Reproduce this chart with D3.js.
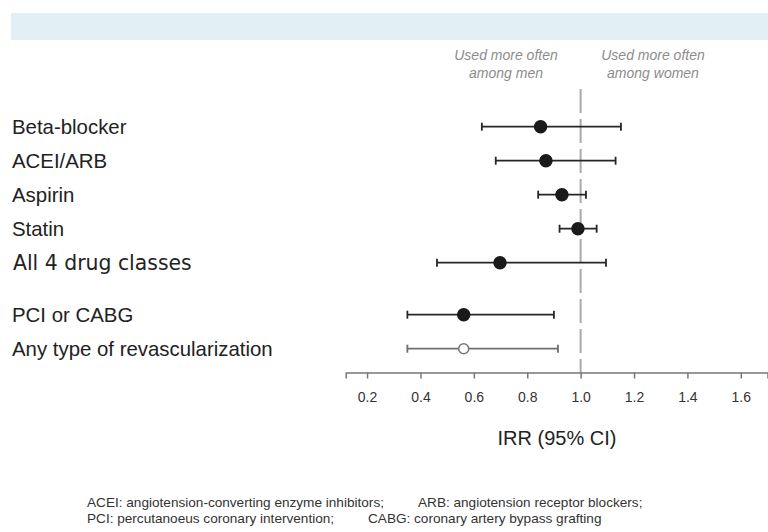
<!DOCTYPE html>
<html>
<head>
<meta charset="utf-8">
<script src="https://cdn.jsdelivr.net/npm/d3@7"></script>
<style>
  body { margin: 0; background: #fff; }
</style>
</head>
<body>
<div id="chart"></div>
<script>
var labels = [
  "Beta-blocker",
  "ACEI/ARB",
  "Aspirin",
  "Statin",
  "All 4 drug classes",
  "PCI or CABG",
  "Any type of revascularization",
];
var groups = ["drug", "drug", "drug", "drug", "drug", "revasc", "revasc"];
var irr = [0.85, 0.87, 0.93, 0.99, 0.698, 0.562, 0.562];
var lower = [0.63, 0.682, 0.841, 0.921, 0.462, 0.351, 0.351];
var upper = [1.151, 1.131, 1.02, 1.06, 1.095, 0.9, 0.915];
var filled = [true, true, true, true, true, true, false];
var tickValues = [0.2, 0.4, 0.6, 0.8, 1.0, 1.2, 1.4, 1.6];
var footnotes = [
  ["ACEI: angiotension-converting enzyme inhibitors;", "ARB: angiotension receptor blockers;"],
  ["PCI: percutanoeus coronary intervention;", "CABG: coronary artery bypass grafting"],
];

const width = 768;
const height = 532;
const sans = "'Liberation Sans', Arial, sans-serif";

const svg = d3
  .select("#chart")
  .append("svg")
  .attr("width", width)
  .attr("height", height)
  .style("font-family", sans);

// light blue header band
svg
  .append("rect")
  .attr("x", 11)
  .attr("y", 13)
  .attr("width", width - 11)
  .attr("height", 27)
  .attr("fill", "#e2f0f5");

const x = d3.scaleLinear().domain([0.12, 1.7]).range([345.7, 767.5]);

// row positions: extra gap between the drug block and revascularization block
var rowPos = [];
var pos = 0;
groups.forEach(function (g, i) {
  if (i > 0 && g !== groups[i - 1]) pos += 1.53;
  else if (i > 0) pos += 1;
  rowPos.push(pos);
});
const y = d3.scaleLinear().domain([0, 1]).range([126.7, 160.7]);
const axisY = 372.5;

// reference line at 1
svg
  .append("line")
  .attr("x1", x(1))
  .attr("x2", x(1))
  .attr("y1", 89)
  .attr("y2", axisY)
  .attr("stroke", "#aaaaaa")
  .attr("stroke-width", 2)
  .attr("stroke-dasharray", "24,6");

// annotations
var notes = [
  { cx: 506, lines: ["Used more often", "among men"] },
  { cx: 653, lines: ["Used more often", "among women"] },
];
notes.forEach(function (n) {
  n.lines.forEach(function (t, j) {
    svg
      .append("text")
      .attr("x", n.cx)
      .attr("y", 60 + j * 18)
      .attr("text-anchor", "middle")
      .style("font-size", "14px")
      .style("font-style", "italic")
      .attr("fill", "#8c8c8c")
      .text(t);
  });
});

// axis
const xAxis = svg
  .append("g")
  .attr("class", "x axis")
  .attr("transform", "translate(0," + axisY + ")")
  .call(
    d3
      .axisBottom(x)
      .tickValues(tickValues)
      .tickFormat(d3.format(".1f"))
      .tickSizeInner(6)
      .tickSizeOuter(6)
      .tickPadding(14)
  );
xAxis.select(".domain").attr("stroke", "#777").attr("stroke-width", 1.5);
xAxis.selectAll(".tick line").attr("stroke", "#777").attr("stroke-width", 1.5);
xAxis
  .selectAll(".tick text")
  .style("font-size", "14px")
  .style("font-family", sans)
  .attr("fill", "#333");

svg
  .append("text")
  .attr("x", 557)
  .attr("y", 445)
  .attr("text-anchor", "middle")
  .style("font-size", "20px")
  .attr("fill", "#222")
  .text("IRR (95% CI)");

// row labels
svg
  .selectAll(".label")
  .data(labels)
  .enter()
  .append("text")
  .attr("class", "label")
  .attr("x", function (d, i) {
    return i === 4 ? 13 : 12;
  })
  .attr("y", function (d, i) {
    return y(rowPos[i]) + 7;
  })
  .style("font-size", "20.4px")
  .style("font-family", function (d, i) {
    return i === 4 ? "'DejaVu Sans', Verdana, sans-serif" : sans;
  })
  .attr("fill", "#222")
  .text(function (d) {
    return d;
  });

// error bars
var rows = svg
  .selectAll(".row")
  .data(labels)
  .enter()
  .append("g")
  .attr("class", "row")
  .attr("transform", function (d, i) {
    return "translate(0," + y(rowPos[i]) + ")";
  });

rows.each(function (d, i) {
  var g = d3.select(this);
  var col = filled[i] ? "#262626" : "#6e6e6e";
  g.append("line")
    .attr("x1", x(lower[i]))
    .attr("x2", x(upper[i]))
    .attr("y1", 0)
    .attr("y2", 0)
    .attr("stroke", col)
    .attr("stroke-width", 1.8);
  [lower[i], upper[i]].forEach(function (v) {
    g.append("line")
      .attr("x1", x(v))
      .attr("x2", x(v))
      .attr("y1", -4)
      .attr("y2", 4)
      .attr("stroke", col)
      .attr("stroke-width", 1.8);
  });
  g.append("circle")
    .attr("cx", x(irr[i]))
    .attr("cy", 0)
    .attr("r", filled[i] ? 6 : 5)
    .attr("fill", filled[i] ? "#1a1a1a" : "#fff")
    .attr("stroke", filled[i] ? "#1a1a1a" : "#777")
    .attr("stroke-width", 1.5);
});

// footnotes
var footX = [[87, 418], [87, 368]];
footnotes.forEach(function (line, j) {
  line.forEach(function (t, k) {
    svg
      .append("text")
      .attr("x", footX[j][k])
      .attr("y", 507 + j * 15.5)
      .style("font-size", "13.6px")
      .attr("fill", "#333")
      .text(t);
  });
});
</script>
</body>
</html>
